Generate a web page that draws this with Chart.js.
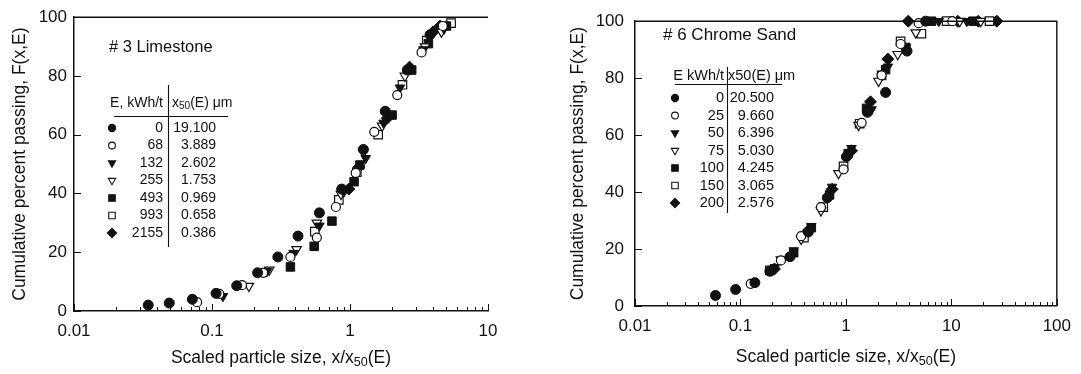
<!DOCTYPE html>
<html>
<head>
<meta charset="utf-8">
<title>Scaled particle size distributions</title>
<script src="https://cdn.jsdelivr.net/npm/chart.js@4.4.0/dist/chart.umd.min.js"></script>
<style>
html, body { margin: 0; padding: 0; background: #fff; }
#wrap { position: relative; width: 1081px; height: 374px; overflow: hidden; }
#c1 { position: absolute; left: 0; top: 0; }
#c2 { position: absolute; left: 540px; top: 0; }
</style>
</head>
<body>
<div id="wrap">
  <canvas id="c1" width="540" height="374"></canvas>
  <canvas id="c2" width="541" height="374"></canvas>
</div>
<script>
// ---- data : # 3 Limestone  (x = x/x50(E), y = F(x,E) %)
var lsEnergy = ['0', '68', '132', '255', '493', '993', '2155'];
var lsX50 = ['19.100', '3.889', '2.602', '1.753', '0.969', '0.658', '0.386'];
var ls0 = [[0.0345, 2], [0.049, 2.7], [0.072, 4], [0.107, 6], [0.151, 8.6], [0.214, 13], [0.30, 18.4], [0.42, 25.5], [0.60, 33.4], [0.87, 41.5], [1.25, 55], [1.8, 68], [2.6, 82], [3.8, 94]];
var ls68 = [[0.078, 3], [0.113, 5.8], [0.165, 8.8], [0.235, 13], [0.37, 18.4], [0.575, 25], [0.79, 35.4], [1.1, 47], [1.5, 61], [2.2, 73.5], [3.3, 88], [4.7, 97]];
var ls132 = [[0.12, 5], [0.25, 13.5], [0.39, 19.7], [0.6, 29], [0.9, 40.5], [1.3, 52], [1.75, 64], [2.3, 76], [3.4, 89], [4.8, 96]];
var ls255 = [[0.185, 8.5], [0.26, 14], [0.41, 21], [0.575, 30], [0.86, 39.8], [1.25, 54], [1.71, 63], [2.5, 80], [3.5, 90], [4.6, 95]];
var ls493 = [[0.37, 15], [0.55, 22], [0.74, 30.6], [1.07, 44], [1.18, 49.7], [2.02, 66.7], [2.8, 82], [3.7, 91], [5.0, 97]];
var ls993 = [[0.556, 27], [0.83, 37.8], [1.12, 47.3], [1.6, 60], [2.4, 77], [3.6, 92], [5.4, 98]];
var ls2155 = [[0.98, 41.5], [1.16, 49], [1.86, 65.6], [2.7, 83], [4.0, 95], [4.5, 97]];

// ---- data : # 6 Chrome Sand
var csEnergy = ['0', '25', '50', '75', '100', '150', '200'];
var csX50 = ['20.500', '9.660', '6.396', '5.030', '4.245', '3.065', '2.576'];
var cs0 = [[0.058, 3.7], [0.090, 5.8], [0.137, 8.2], [0.19, 12.2], [0.295, 17.3], [0.44, 26], [0.666, 38], [1.01, 52.4], [1.6, 68], [2.38, 75], [3.8, 89.5], [5.7, 100]];
var cs25 = [[0.125, 7.8], [0.242, 16], [0.376, 24.5], [0.58, 34.7], [0.95, 48], [1.41, 64.3], [2.18, 81], [3.3, 92], [4.9, 99.3], [10.2, 100]];
var cs50 = [[0.212, 13.6], [0.32, 19.5], [0.47, 28], [0.74, 41.8], [1.13, 55.4], [1.75, 69], [2.5, 84], [3.7, 90.8], [7.6, 100], [14, 100]];
var cs75 = [[0.242, 16.3], [0.376, 23.5], [0.58, 33.5], [0.85, 46.6], [1.32, 63.5], [2.04, 79], [3.1, 88.4], [4.6, 96], [12, 100], [19, 100]];
var cs100 = [[0.32, 18.7], [0.47, 27.5], [0.7, 39], [1.05, 53.5], [1.57, 69.4], [2.38, 83], [3.7, 90.8], [6.5, 100], [16, 100]];
var cs150 = [[0.19, 12.5], [0.40, 24], [0.61, 34.7], [0.95, 49], [1.35, 64], [2.18, 81], [3.3, 92.9], [5.2, 95.6], [9, 100], [23, 100]];
var cs200 = [[0.21, 13], [0.44, 26.5], [0.74, 41], [1.13, 54.5], [1.71, 71.7], [2.5, 86.7], [3.9, 100], [11.5, 100], [18, 100], [27, 100]];

// ---- axes
var xTicksLs = [0.01, 0.1, 1, 10];
var xTicksCs = [0.01, 0.1, 1, 10, 100];
var yTicks = [0, 20, 40, 60, 80, 100];

var ink = '#111';
var fam = "'Liberation Sans', Arial, Helvetica, sans-serif";
Chart.defaults.font.family = fam;
Chart.defaults.color = ink;

// marker per energy level (same order in both panels)
var markers = [
    { pointStyle: 'circle', rotation: 0, fill: true, r: 5, lr: 3.6 },
    { pointStyle: 'circle', rotation: 0, fill: false, r: 4.5, lr: 3.4 },
    { pointStyle: 'triangle', rotation: 180, fill: true, r: 5.5, lr: 4.2 },
    { pointStyle: 'triangle', rotation: 180, fill: false, r: 5.5, lr: 4.2 },
    { pointStyle: 'rect', rotation: 0, fill: true, r: 6, lr: 4.6 },
    { pointStyle: 'rect', rotation: 0, fill: false, r: 6, lr: 4.6 },
    { pointStyle: 'rectRot', rotation: 0, fill: true, r: 6, lr: 4.6 }
];

function toPts(arr) {
    return arr.map(function (p) { return { x: p[0], y: p[1] }; });
}

function makeSets(series) {
    return series.map(function (s, i) {
        var m = markers[i];
        return {
            data: toPts(s),
            showLine: false,
            clip: false,
            pointStyle: m.pointStyle,
            rotation: m.rotation,
            pointRadius: m.r,
            pointHoverRadius: m.r,
            backgroundColor: m.fill ? ink : '#fff',
            borderColor: ink,
            borderWidth: m.fill ? 1 : 1.2
        };
    });
}

// draw text pieces, some of them as subscript
function drawPieces(ctx, pieces, x, y, size, align) {
    var w = 0;
    pieces.forEach(function (p) {
        ctx.font = (p[1] ? size * 0.72 : size) + 'px ' + fam;
        p.w = ctx.measureText(p[0]).width;
        w += p.w;
    });
    var cx = align === 'center' ? x - w / 2 : x;
    ctx.textAlign = 'left';
    ctx.textBaseline = 'middle';
    pieces.forEach(function (p) {
        ctx.font = (p[1] ? size * 0.72 : size) + 'px ' + fam;
        ctx.fillText(p[0], cx, p[1] ? y + size * 0.26 : y);
        cx += p.w;
    });
}

var panelDeco = {
    id: 'panelDeco',
    afterDraw: function (chart) {
        var o = chart.options.plugins.panelDeco;
        var ctx = chart.ctx, a = chart.chartArea;
        var xs = chart.scales.x, ys = chart.scales.y;
        ctx.save();
        ctx.strokeStyle = ink;
        ctx.fillStyle = ink;

        // frame (top, and right on the second panel)
        ctx.lineWidth = 1.4;
        ctx.beginPath();
        ctx.moveTo(a.left, a.top);
        ctx.lineTo(a.right, a.top);
        if (o.rightBorder) ctx.lineTo(a.right, a.bottom);
        ctx.stroke();

        // inward ticks on the log x axis
        ctx.lineWidth = 1;
        ctx.beginPath();
        for (var d = xs.min; d <= xs.max * 1.0001; d *= 10) {
            for (var k = 1; k <= 9; k++) {
                var v = k * d;
                if (v > xs.max * 1.0001) break;
                var px = Math.round(xs.getPixelForValue(v)) + 0.5;
                var len = k === 1 ? 7 : 4;
                ctx.moveTo(px, a.bottom);
                ctx.lineTo(px, a.bottom - len);
            }
        }
        // inward ticks on y
        yTicks.forEach(function (t) {
            var py = Math.round(ys.getPixelForValue(t)) + 0.5;
            ctx.moveTo(a.left, py);
            ctx.lineTo(a.left + 7, py);
        });
        ctx.stroke();

        // axis titles
        drawPieces(ctx, [['Scaled particle size, x/x'], ['50', true], ['(E)']], (a.left + a.right) / 2, o.xTitleY, 17.5, 'center');
        ctx.save();
        ctx.translate(o.yTitleX, (a.top + a.bottom) / 2);
        ctx.rotate(-Math.PI / 2);
        ctx.font = '17.5px ' + fam;
        ctx.textAlign = 'center';
        ctx.textBaseline = 'middle';
        ctx.fillText('Cumulative percent passing, F(x,E)', 0, 0);
        ctx.restore();

        // panel title
        ctx.font = o.titleSize + 'px ' + fam;
        ctx.textAlign = 'left';
        ctx.textBaseline = 'middle';
        ctx.fillText(o.title, o.titleX, o.titleY);

        // legend table
        var t = o.table;
        ctx.font = t.size + 'px ' + fam;
        ctx.textAlign = 'right';
        ctx.fillText(t.hdrE, t.eRight, t.headY);
        if (t.subHead) {
            drawPieces(ctx, [['x'], ['50', true], ['(E) \u03bcm']], t.hdrX, t.headY, t.size, 'left');
        } else {
            ctx.textAlign = 'left';
            ctx.fillText('x50(E) \u03bcm', t.hdrX, t.headY);
        }
        ctx.lineWidth = 1.1;
        ctx.beginPath();
        ctx.moveTo(t.ulX1, t.ulY + 0.5);
        ctx.lineTo(t.ulX2, t.ulY + 0.5);
        ctx.moveTo(t.vX + 0.5, t.vTop);
        ctx.lineTo(t.vX + 0.5, t.vBot);
        ctx.stroke();

        ctx.font = t.size + 'px ' + fam;
        ctx.textBaseline = 'middle';
        for (var i = 0; i < t.energy.length; i++) {
            var y = t.row0 + i * t.dy;
            var m = markers[i];
            ctx.fillStyle = m.fill ? ink : '#fff';
            ctx.lineWidth = 1.1;
            if (Chart.helpers && Chart.helpers.drawPoint) {
                Chart.helpers.drawPoint(ctx, { pointStyle: m.pointStyle, rotation: m.rotation, radius: m.lr, borderWidth: 1.1 }, t.markX, y);
            }
            ctx.fillStyle = ink;
            ctx.textAlign = 'right';
            ctx.fillText(t.energy[i], t.eRight, y);
            ctx.fillText(t.x50[i], t.vRight, y);
        }
        ctx.restore();
    }
};

function xAxis(maxV, ticksArr, h) {
    return {
        type: 'logarithmic',
        min: 0.01,
        max: maxV,
        afterBuildTicks: function (s) { s.ticks = ticksArr.map(function (v) { return { value: v }; }); },
        afterFit: function (s) { s.height = h; },
        grid: { display: false, drawTicks: false },
        border: { display: true, color: ink, width: 1.5 },
        ticks: {
            autoSkip: false, maxRotation: 0, padding: 10, color: ink,
            font: { size: 17 },
            callback: function (v) { return String(v); }
        }
    };
}

function yAxis(w, pad) {
    return {
        min: 0,
        max: 100,
        afterBuildTicks: function (s) { s.ticks = yTicks.map(function (v) { return { value: v }; }); },
        afterFit: function (s) { s.width = w; },
        grid: { display: false, drawTicks: false },
        border: { display: true, color: ink, width: 1.5 },
        ticks: { padding: pad, color: ink, font: { size: 17 } }
    };
}

new Chart(document.getElementById('c1'), {
    type: 'scatter',
    data: { datasets: makeSets([ls0, ls68, ls132, ls255, ls493, ls993, ls2155]) },
    options: {
        responsive: false,
        animation: false,
        devicePixelRatio: 1,
        layout: { padding: { left: 0, top: 17, right: 52, bottom: 0 } },
        scales: { x: xAxis(10, xTicksLs, 63), y: yAxis(74, 7) },
        plugins: {
            legend: { display: false },
            tooltip: { enabled: false },
            panelDeco: {
                rightBorder: false,
                xTitleY: 358, yTitleX: 20,
                title: '# 3 Limestone', titleX: 109, titleY: 47, titleSize: 16.5,
                table: {
                    energy: lsEnergy, x50: lsX50, size: 14, subHead: true,
                    hdrE: 'E, kWh/t', headY: 103, hdrX: 172,
                    ulY: 116, ulX1: 114, ulX2: 228,
                    vX: 168, vTop: 85, vBot: 247,
                    row0: 128, dy: 17.5, markX: 112, eRight: 163, vRight: 216
                }
            }
        }
    },
    plugins: [panelDeco]
});

new Chart(document.getElementById('c2'), {
    type: 'scatter',
    data: { datasets: makeSets([cs0, cs25, cs50, cs75, cs100, cs150, cs200]) },
    options: {
        responsive: false,
        animation: false,
        devicePixelRatio: 1,
        layout: { padding: { left: 0, top: 13, right: 21, bottom: 0 } },
        scales: { x: xAxis(100, xTicksCs, 68), y: yAxis(95, 11) },
        plugins: {
            legend: { display: false },
            tooltip: { enabled: false },
            panelDeco: {
                rightBorder: true,
                xTitleY: 357, yTitleX: 38,
                title: '# 6 Chrome Sand', titleX: 123, titleY: 35, titleSize: 17,
                table: {
                    energy: csEnergy, x50: csX50, size: 14.5, subHead: false,
                    hdrE: 'E kWh/t', headY: 76, hdrX: 188,
                    ulY: 84, ulX1: 135, ulX2: 242,
                    vX: 187, vTop: 67, vBot: 213,
                    row0: 98, dy: 17.5, markX: 135, eRight: 184, vRight: 234
                }
            }
        }
    },
    plugins: [panelDeco]
});
</script>
</body>
</html>
